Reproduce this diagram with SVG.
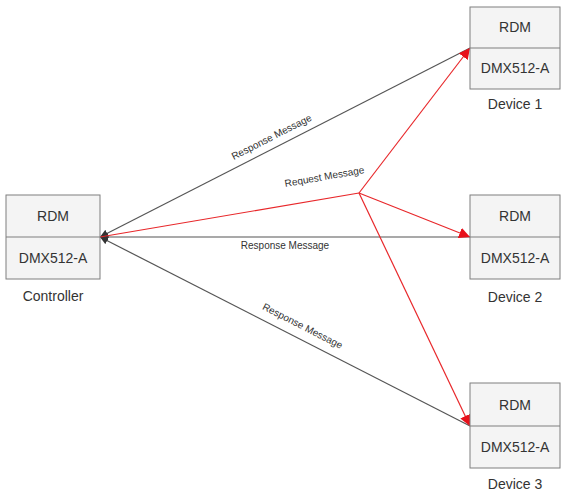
<svg xmlns="http://www.w3.org/2000/svg" width="561" height="493" viewBox="0 0 561 493">
  <style>
    .box { fill: #f4f4f4; stroke: #7f7f7f; stroke-width: 1; }
    .div { stroke: #7f7f7f; stroke-width: 1; }
    .t { font-family: "Liberation Sans", Arial, sans-serif; font-size: 14px; fill: #333; text-anchor: middle; }
    .lbl { font-family: "Liberation Sans", Arial, sans-serif; font-size: 10px; fill: #333; text-anchor: middle; }
    .resp { stroke: #555; stroke-width: 1.2; fill: none; }
    .req { stroke: #e8272a; stroke-width: 1.2; fill: none; }
  </style>
  <defs>
    <marker id="arrowDark" viewBox="0 0 10 10" refX="10" refY="5" markerWidth="8" markerHeight="8" markerUnits="userSpaceOnUse" orient="auto">
      <path d="M0,0 L10,5 L0,10 z" fill="#333"/>
    </marker>
    <marker id="arrowRed" viewBox="0 0 10 10" refX="10" refY="5" markerWidth="11" markerHeight="11" markerUnits="userSpaceOnUse" orient="auto">
      <path d="M0,0 L10,5 L0,10 z" fill="#e8101a"/>
    </marker>
  </defs>
  <rect width="561" height="493" fill="#fff"/>

  <g id="connectors">
    <!-- responses from devices back to the controller -->
    <line class="resp" x1="470" y1="48" x2="100" y2="237" marker-end="url(#arrowDark)"/>
    <line class="resp" x1="470" y1="237" x2="100" y2="237" marker-end="url(#arrowDark)"/>
    <line class="resp" x1="470" y1="426" x2="100" y2="237" marker-end="url(#arrowDark)"/>
    <!-- request fan-out -->
    <line class="req" x1="100" y1="237" x2="359" y2="193"/>
    <line class="req" x1="359" y1="193" x2="470" y2="48" marker-end="url(#arrowRed)"/>
    <line class="req" x1="359" y1="193" x2="470" y2="237" marker-end="url(#arrowRed)"/>
    <line class="req" x1="359" y1="193" x2="470" y2="426" marker-end="url(#arrowRed)"/>
    <text class="lbl" transform="translate(273,140) rotate(-27)">Response Message</text>
    <text class="lbl" transform="translate(325,180) rotate(-10)">Request Message</text>
    <text class="lbl" x="285" y="249">Response Message</text>
    <text class="lbl" transform="translate(301,329) rotate(27)">Response Message</text>
  </g>

  <g id="controller">
    <rect class="box" x="6" y="195" width="94" height="84"/>
    <line class="div" x1="6" y1="237" x2="100" y2="237"/>
    <text class="t" x="53" y="221">RDM</text>
    <text class="t" x="53" y="263">DMX512-A</text>
    <text class="t" x="53" y="301">Controller</text>
  </g>

  <g id="device1">
    <rect class="box" x="470" y="7" width="90" height="82"/>
    <line class="div" x1="470" y1="48" x2="560" y2="48"/>
    <text class="t" x="515" y="32">RDM</text>
    <text class="t" x="515" y="73">DMX512-A</text>
    <text class="t" x="515" y="109">Device 1</text>
  </g>

  <g id="device2">
    <rect class="box" x="470" y="195" width="90" height="84"/>
    <line class="div" x1="470" y1="237" x2="560" y2="237"/>
    <text class="t" x="515" y="221">RDM</text>
    <text class="t" x="515" y="263">DMX512-A</text>
    <text class="t" x="515" y="302">Device 2</text>
  </g>

  <g id="device3">
    <rect class="box" x="470" y="383" width="90" height="85"/>
    <line class="div" x1="470" y1="426" x2="560" y2="426"/>
    <text class="t" x="515" y="410">RDM</text>
    <text class="t" x="515" y="452">DMX512-A</text>
    <text class="t" x="515" y="489">Device 3</text>
  </g>
</svg>
